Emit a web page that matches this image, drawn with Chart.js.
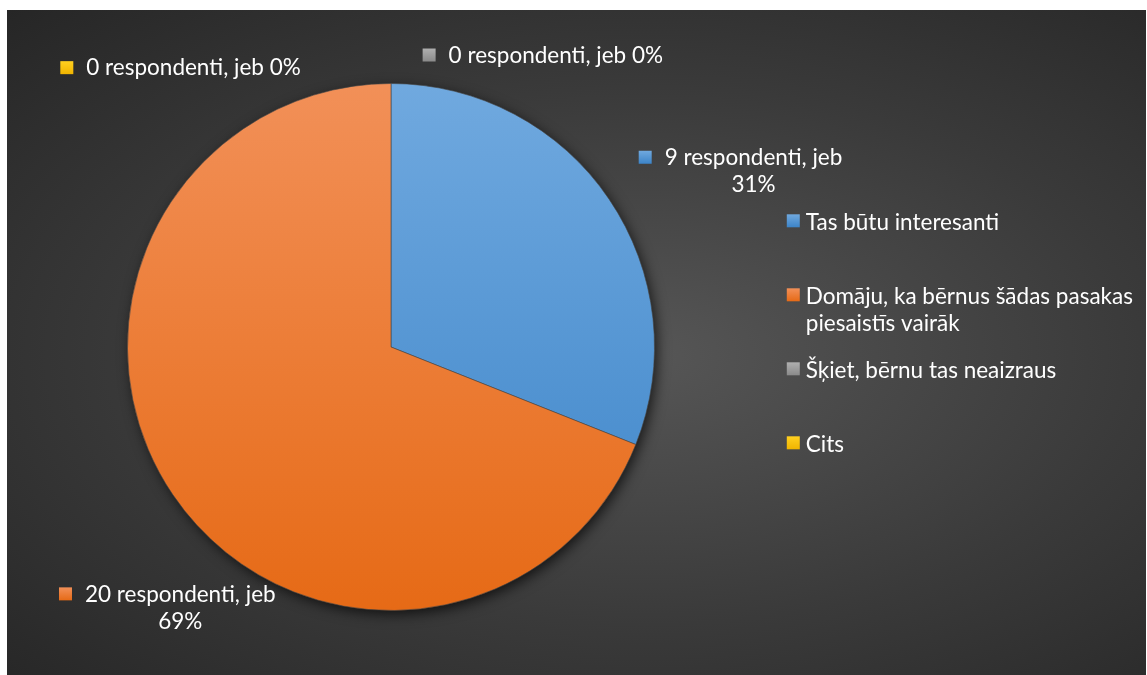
<!DOCTYPE html>
<html>
<head>
<meta charset="utf-8">
<script src="https://cdn.jsdelivr.net/npm/chart.js@4"></script>
<style>
  html, body { margin: 0; padding: 0; background: #ffffff; }
  #wrap {
    position: absolute; left: 7px; top: 10px; width: 1139px; height: 665px;
    background: radial-gradient(ellipse farthest-corner at 56% 52%, #565656 0%, #3a3a3a 55%, #262626 100%);
  }
</style>
</head>
<body>
<div id="wrap"><canvas id="pie-chart"></canvas></div>
<script>
// Answers to "would such fairy tales appeal to children" — 29 respondents.
const categories = [
    'Tas būtu interesanti',
    ['Domāju, ka bērnus šādas pasakas', 'piesaistīs vairāk'],
    'Šķiet, bērnu tas neaizraus',
    'Cits'
];
const respondents = [9, 20, 0, 0];

// Top / bottom shade of each slice's gradient.
const sliceTop = ['#70a9df', '#f29058', '#b0b0b0', '#ffd020'];
const sliceBottom = ['#3c84c8', '#e66a16', '#8a8a8a', '#f0b400'];

// Where Excel left each data label, in pie radii from the pie centre
// (x, y of the marker), and whether the label wraps onto two lines.
const labelPlace = [
    { dx: 0.94, dy: -0.722, wrap: true },
    { dx: -1.26, dy: 0.935, wrap: true },
    { dx: 0.12, dy: -1.11, wrap: false },
    { dx: -1.255, dy: -1.062, wrap: false }
];

const FONT = '22.5px Lato, "Open Sans", sans-serif';
const total = respondents.reduce((a, b) => a + b, 0);

function vGradient(ctx, top, bottom, c0, c1) {
    const g = ctx.createLinearGradient(0, top, 0, bottom);
    g.addColorStop(0, c0);
    g.addColorStop(1, c1);
    return g;
}

function marker(ctx, x, y, size, i) {
    ctx.fillStyle = vGradient(ctx, y, y + size, sliceTop[i], sliceBottom[i]);
    ctx.fillRect(x, y, size, size);
}

// Soft drop shadow under the whole disc, drawn before the slices.
const pieShadow = {
    id: 'pieShadow',
    beforeDatasetsDraw(chart) {
        const arc = chart.getDatasetMeta(0).data[0];
        if (!arc) return;
        const ctx = chart.ctx;
        ctx.save();
        ctx.shadowColor = 'rgba(0,0,0,0.75)';
        ctx.shadowBlur = 14;
        ctx.shadowOffsetX = 3;
        ctx.shadowOffsetY = 4;
        ctx.fillStyle = '#444';
        ctx.beginPath();
        ctx.arc(arc.x, arc.y, arc.outerRadius - 1, 0, Math.PI * 2);
        ctx.fill();
        ctx.restore();
    }
};

// Data labels: "<n> respondenti, jeb <p>%", with a colour square.
const dataLabels = {
    id: 'dataLabels',
    afterDatasetsDraw(chart) {
        const meta = chart.getDatasetMeta(0);
        const arc = meta.data[0];
        const r = arc.outerRadius;
        const ctx = chart.ctx;
        ctx.save();
        ctx.font = FONT;
        ctx.textBaseline = 'middle';
        respondents.forEach(function(v, i) {
            const p = labelPlace[i];
            const mx = arc.x + p.dx * r;
            const my = arc.y + p.dy * r;
            const pct = Math.round(v / total * 100) + '%';
            marker(ctx, mx, my - 6, 13, i);
            ctx.fillStyle = '#ffffff';
            const tx = mx + 26;
            if (p.wrap) {
                const line1 = v + ' respondenti, jeb';
                const w = ctx.measureText(line1).width;
                ctx.textAlign = 'left';
                ctx.fillText(line1, tx, my + 1);
                ctx.textAlign = 'center';
                ctx.fillText(pct, tx + w / 2, my + 28);
            } else {
                ctx.textAlign = 'left';
                ctx.fillText(v + ' respondenti, jeb ' + pct, tx, my + 1);
            }
        });
        ctx.restore();
    }
};

// Right-hand legend, one evenly spaced slot per category.
const sideLegend = {
    id: 'sideLegend',
    afterDraw(chart) {
        const arc = chart.getDatasetMeta(0).data[0];
        const r = arc.outerRadius;
        const ctx = chart.ctx;
        const x0 = arc.x + r * 1.502;
        const y0 = arc.y - r * 0.477;
        const slot = 74;
        ctx.save();
        ctx.font = FONT;
        ctx.textBaseline = 'middle';
        ctx.textAlign = 'left';
        chart.data.labels.forEach(function(label, i) {
            const y = y0 + i * slot;
            marker(ctx, x0, y - 7, 13, i);
            ctx.fillStyle = '#ffffff';
            const lines = Array.isArray(label) ? label : [label];
            lines.forEach(function(line, k) {
                ctx.fillText(line, x0 + 19, y + 1 + k * 27);
            });
        });
        ctx.restore();
    }
};

const ctx = document.getElementById('pie-chart');
new Chart(ctx, {
    type: 'pie',
    data: {
        labels: categories,
        datasets: [{
            data: respondents,
            backgroundColor: function(c) {
                const area = c.chart.chartArea;
                if (!area) return sliceTop[c.dataIndex];
                return vGradient(c.chart.ctx, area.top, area.bottom, sliceTop[c.dataIndex], sliceBottom[c.dataIndex]);
            },
            borderColor: 'rgba(70,70,70,0.6)',
            borderWidth: function(c) { return respondents[c.dataIndex] > 0 ? 1 : 0; }
        }]
    },
    options: {
        responsive: true,
        maintainAspectRatio: false,
        animation: false,
        rotation: 0,
        layout: { padding: { left: 120, right: 491, top: 73, bottom: 64 } },
        plugins: {
            legend: { display: false },
            tooltip: { enabled: false }
        }
    },
    plugins: [pieShadow, dataLabels, sideLegend]
});
</script>
</body>
</html>
